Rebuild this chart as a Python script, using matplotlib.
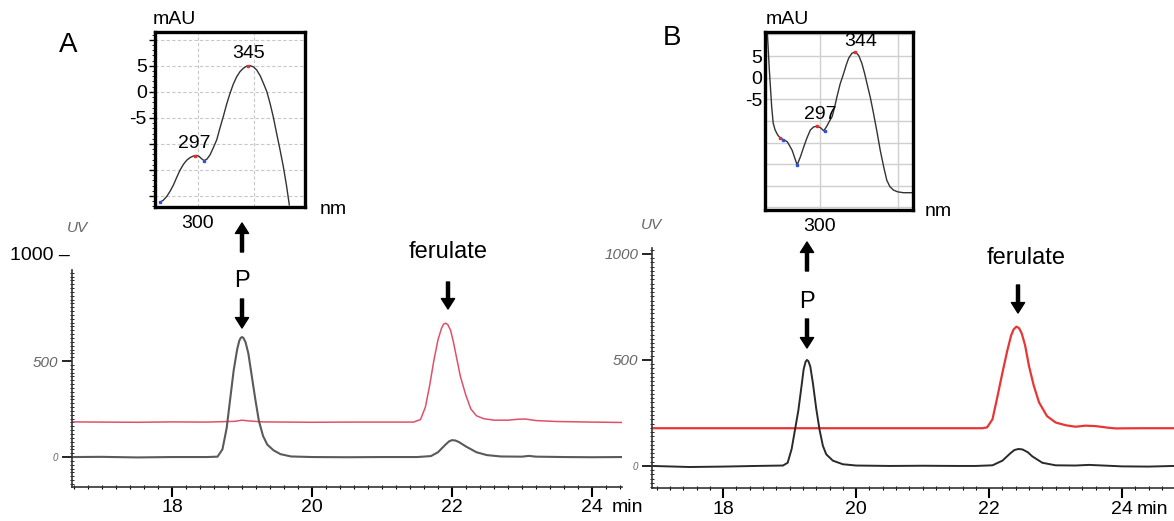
import numpy as np
import matplotlib
matplotlib.use("Agg")
import matplotlib.pyplot as plt
from matplotlib.ticker import MultipleLocator, FixedLocator

plt.rcParams['font.family'] = ['Liberation Sans', 'DejaVu Sans']

W, H = 1174, 521

# ---- panel A chromatogram (time in min, signal in UV units) ----
a_grey_t = [16.57, 17.0, 17.5, 18.0, 18.5, 18.65, 18.72, 18.78, 18.83, 18.88, 18.93, 18.96,
            18.98, 19.0, 19.02, 19.05, 19.09, 19.14, 19.19, 19.24, 19.3, 19.36, 19.45, 19.55,
            19.7, 20.0, 20.5, 21.0, 21.5, 21.7, 21.8, 21.9, 21.96, 22.0, 22.05, 22.1, 22.2,
            22.35, 22.5, 22.7, 23.0, 23.1, 23.2, 23.6, 24.0, 24.43]
a_grey_v = [0, 1, -2, 0, 0, 2, 40, 150, 300, 450, 560, 605,
            620, 625, 620, 598, 540, 420, 300, 190, 110, 65, 35, 15,
            3, 0, -1, 0, 0, 5, 25, 62, 82, 88, 86, 78, 55,
            25, 10, 3, 2, 6, 2, 0, -1, 0]
a_red_t = [16.57, 17.0, 17.5, 18.0, 18.5, 18.9, 19.0, 19.1, 19.3, 20.0, 20.5, 21.0, 21.45,
           21.55, 21.62, 21.68, 21.74, 21.8, 21.85, 21.88, 21.91, 21.94, 21.98, 22.02, 22.07,
           22.12, 22.2, 22.27, 22.35, 22.45, 22.6, 22.8, 22.95, 23.05, 23.2, 23.5, 24.0, 24.43]
a_red_v = [183, 182, 181, 183, 182, 186, 192, 188, 183, 181, 182, 182, 182,
           195, 260, 370, 500, 610, 670, 692, 697, 690, 660, 600, 510,
           420, 320, 250, 215, 200, 192, 192, 197, 198, 190, 185, 182, 180]

# ---- panel B chromatogram ----
b_grey_t = [16.93, 17.5, 18.0, 18.5, 18.9, 18.97, 19.03, 19.08, 19.13, 19.18, 19.21, 19.24,
            19.26, 19.28, 19.31, 19.35, 19.4, 19.45, 19.5, 19.55, 19.65, 19.8, 20.0, 20.5,
            21.0, 21.5, 21.8, 22.05, 22.2, 22.32, 22.38, 22.44, 22.5, 22.58, 22.65, 22.8,
            23.0, 23.3, 23.5, 24.0, 24.4, 24.78]
b_grey_v = [0, -5, -3, 0, 2, 15, 80, 170, 260, 380, 455, 492,
            500, 495, 470, 390, 270, 170, 95, 55, 25, 8, 2, 0,
            1, 0, 0, 3, 25, 60, 75, 80, 78, 65, 45, 15,
            3, 2, 5, -2, -3, 0]
b_red_t = [16.93, 18.0, 19.0, 20.0, 21.0, 21.9, 21.97, 22.05, 22.12, 22.2, 22.27, 22.33,
           22.37, 22.41, 22.45, 22.49, 22.54, 22.6, 22.67, 22.75, 22.87, 23.0, 23.15, 23.3,
           23.45, 23.6, 23.8, 23.9, 24.3, 24.78]
b_red_v = [178, 178, 178, 178, 178, 178, 182, 220, 320, 440, 540, 615,
           645, 657, 650, 625, 570, 470, 380, 300, 235, 205, 192, 185,
           190, 188, 180, 177, 178, 178]

# ---- UV spectra (nm, mAU) ----
a_spec_nm = [266, 269, 272, 275, 278, 281, 284, 287, 290, 293, 296, 298.5, 301, 303, 305.4,
             308, 310.7, 313.5, 316.7, 319.5, 322.6, 325.5, 328.6, 331.5, 334.5, 337.5, 340.5,
             343.5, 346.4, 349.5, 352.4, 355.5, 358.3, 361.5, 364.3, 367.3, 370.2, 373.2,
             376.2, 379, 381.5]
a_spec_v = [-21.2, -20.8, -20.1, -19.1, -17.9, -16.4, -15.0, -13.9, -13.1, -12.6, -12.3,
            -12.2, -12.4, -12.8, -13.2, -12.9, -12.1, -10.8, -9.2, -7.0, -4.7, -2.4, -0.25,
            1.5, 2.9, 3.9, 4.55, 4.95, 5.05, 4.8, 4.2, 3.1, 1.7, 0.0, -2.2, -4.9, -8.0,
            -11.1, -14.4, -18.0, -21.7]
a_peak_nm, a_peak_v = [297, 345], [-12.3, 5.05]
a_valley_nm, a_valley_v = [266, 305.4], [-21.2, -13.2]

b_spec_nm = [232.5, 235, 238, 240, 242.5, 246, 249.4, 254, 258, 261, 264.4, 268, 270.8,
             275, 279.3, 283.5, 287.8, 292, 296.4, 301, 305, 309, 312.5, 315.8, 319, 322,
             326, 330.6, 334, 337, 341, 345.5, 350, 354, 357.5, 360.5, 365, 369, 373.5,
             377.6, 382, 386, 390, 394.6, 400, 407.4, 419.7]
b_spec_v = [10.6, 2.0, -6.5, -10.5, -12.1, -13.3, -14.0, -14.4, -14.8, -15.7, -16.8, -18.7,
            -20.2, -18.3, -16.0, -13.9, -12.1, -11.4, -11.2, -11.6, -12.3, -11.2, -10.0, -9.0,
            -6.8, -4.4, -1.5, 1.0, 3.0, 4.5, 5.6, 6.0, 5.1, 3.3, 1.0, -1.3, -4.7, -8.3, -12.6,
            -16.8, -20.6, -23.7, -25.2, -26.0, -26.4, -26.6, -26.6]
b_peak_nm, b_peak_v = [249.4, 296.4, 345.5], [-14.0, -11.2, 6.0]
b_valley_nm, b_valley_v = [252, 270.8, 307], [-14.3, -20.2, -12.3]

fig = plt.figure(figsize=(W / 100, H / 100), dpi=100)


def px_axes(x0, y0, x1, y1):
    return fig.add_axes([x0 / W, 1 - y1 / H, (x1 - x0) / W, (y1 - y0) / H])


def ftext(x, y, s, **kw):
    kw.setdefault('ha', 'center')
    kw.setdefault('va', 'center')
    fig.text(x / W, 1 - y / H, s, **kw)


def arrow(x, y_tail, y_tip):
    fig.add_artist(plt.Annotation('', xy=(x / W, 1 - y_tip / H), xytext=(x / W, 1 - y_tail / H),
                                  xycoords='figure fraction', textcoords='figure fraction',
                                  arrowprops=dict(facecolor='black', edgecolor='black', width=2.2,
                                                  headwidth=9.5, headlength=7.5, shrink=0)))


grey_lab = dict(color='#666666', style='italic', fontsize=11)


def chrom(ax, xlim, ylim, ymajor):
    ax.xaxis.set_major_locator(MultipleLocator(2))
    ax.xaxis.set_minor_locator(MultipleLocator(0.2))
    ax.yaxis.set_major_locator(FixedLocator(ymajor))
    ax.yaxis.set_minor_locator(MultipleLocator(20))
    ax.set_xlim(*xlim)
    ax.set_ylim(*ylim)
    for s in ['top', 'right']:
        ax.spines[s].set_visible(False)
    for s in ['left', 'bottom']:
        ax.spines[s].set_color('#333333')
        ax.spines[s].set_linewidth(1.2)
    ax.tick_params(axis='x', which='major', length=7, width=1.5, labelsize=14, pad=2)
    ax.tick_params(axis='x', which='minor', length=3, width=0.8, direction='inout')
    ax.tick_params(axis='y', which='major', length=7, width=1.2, labelsize=11,
                   labelcolor='#666666', pad=3)
    ax.tick_params(axis='y', which='minor', length=2.5, width=0.6, direction='inout')
    for lab in ax.get_yticklabels():
        lab.set_fontstyle('italic')
    ax.get_yticklabels()[0].set_fontsize(7)
    ax.patch.set_alpha(0)


# panel A main
axA = px_axes(72, 270, 622, 487)
axA.plot(a_red_t, a_red_v, color='#e0506a', lw=1.1)
axA.plot(a_grey_t, a_grey_v, color='#5a5a5a', lw=1.5)
chrom(axA, (16.57, 24.43), (-156, 974), [0, 500])

# panel B main
axB = px_axes(652, 248, 1174, 488)
axB.plot(b_red_t, b_red_v, color='#e83535', lw=1.6)
axB.plot(b_grey_t, b_grey_v, color='#2a2a2a', lw=1.4)
chrom(axB, (16.93, 24.78), (-104, 1028), [0, 500, 1000])


def inset(ax, nm, v, pk, vl, xlim, ylim, xt, dashed):
    ax.plot(nm, v, color='#333333', lw=1.0)
    ax.plot(pk[0], pk[1], 's', color='#e03030', ms=2)
    ax.plot(vl[0], vl[1], 's', color='#3050e0', ms=2)
    ax.set_xticks(xt)
    ax.set_xticklabels(['300' if t == 300 else '' for t in xt])
    ax.set_yticks([10, 5, 0, -5, -10, -15, -20, -25, -30])
    ax.set_yticklabels(['', '5', '0', '-5', '', '', '', '', ''])
    ax.yaxis.set_minor_locator(MultipleLocator(1))
    ax.set_xlim(*xlim)
    ax.set_ylim(*ylim)
    ax.tick_params(axis='x', length=0, labelsize=14, pad=6)
    ax.tick_params(axis='y', which='major', length=4, width=1, labelsize=14, pad=2)
    ax.tick_params(axis='y', which='minor', length=2, width=0.6)
    if dashed:
        ax.grid(True, color='#c8c8c8', lw=0.8, ls=(0, (3, 2)))
    else:
        ax.grid(True, color='#cfcfcf', lw=1.0)
    for s in ax.spines.values():
        s.set_linewidth(2.4)
        s.set_color('black')


insA = px_axes(155, 32, 305, 207)
inset(insA, a_spec_nm, a_spec_v, (a_peak_nm, a_peak_v), (a_valley_nm, a_valley_v),
      (261.6, 395.5), (-22.1, 11.5), [250, 300, 350], True)

insB = px_axes(765, 32, 913, 210)
inset(insB, b_spec_nm, b_spec_v, (b_peak_nm, b_peak_v), (b_valley_nm, b_valley_v),
      (229.5, 419.7), (-30.6, 10.56), [300, 400], False)
insB.tick_params(axis='y', which='both', length=0)

# peak labels on spectra
insA.text(345, 5.8, '345', ha='center', va='bottom', fontsize=14)
insA.text(297, -11.5, '297', ha='center', va='bottom', fontsize=14)
insB.text(352, 6.5, '344', ha='center', va='bottom', fontsize=14)
insB.text(301, -10.5, '297', ha='center', va='bottom', fontsize=14)

# texts
ftext(68, 45, 'A', fontsize=20)
ftext(672, 38, 'B', fontsize=20)
ftext(174, 19, 'mAU', fontsize=14)
ftext(787, 19, 'mAU', fontsize=14)
ftext(333, 209, 'nm', fontsize=14)
ftext(938, 211, 'nm', fontsize=14)
ftext(77, 228, 'UV', **grey_lab)
ftext(651, 225, 'UV', **grey_lab)
ftext(40, 255, '1000 \u2013', fontsize=14)
ftext(612, 507, 'min', fontsize=14, ha='left')
ftext(1137, 509, 'min', fontsize=14, ha='left')

# arrows and peak names
arrow(242, 252, 223)
ftext(242, 281, 'P', fontsize=17)
arrow(242, 299, 328)
ftext(448, 252, 'ferulate', fontsize=17)
arrow(448, 282, 309)

arrow(807, 271, 242)
ftext(807, 302, 'P', fontsize=17)
arrow(807, 319, 348)
ftext(1026, 258, 'ferulate', fontsize=17)
arrow(1018, 285, 313)

fig.savefig('out.png', dpi=100)
